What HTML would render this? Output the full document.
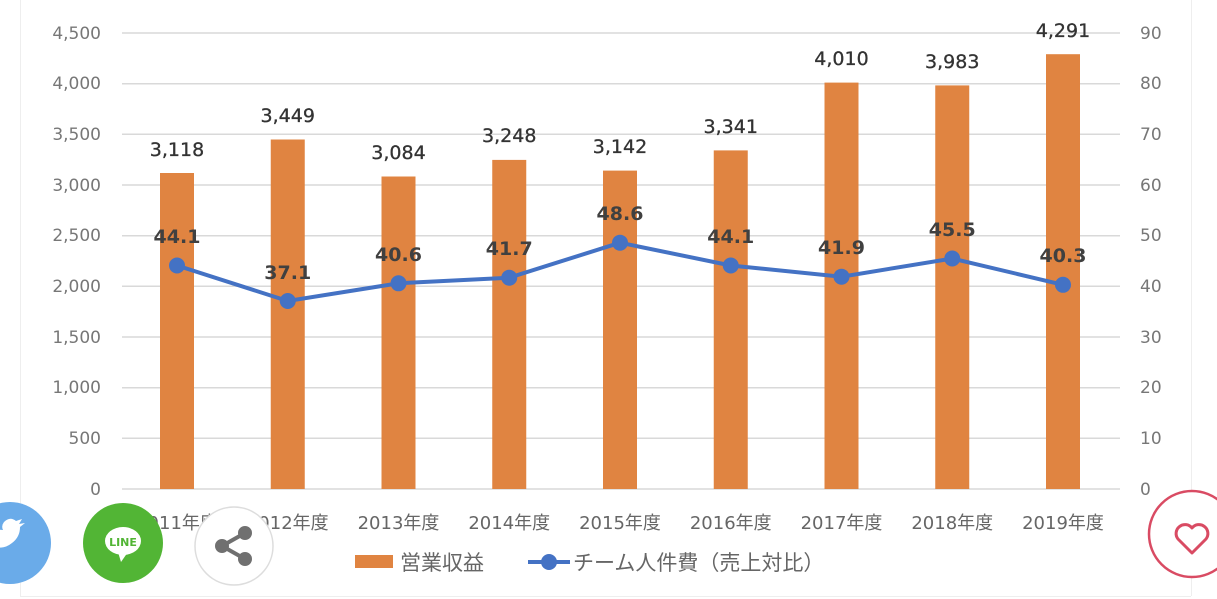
<!DOCTYPE html>
<html><head><meta charset="utf-8"><style>
html,body{margin:0;padding:0;background:#fff;width:1217px;height:599px;overflow:hidden}
svg{display:block}
text{font-family:"DejaVu Sans","Liberation Sans","Noto Sans CJK JP",sans-serif}
</style></head><body>
<svg width="1217" height="599" viewBox="0 0 1217 599" xmlns="http://www.w3.org/2000/svg">
<line x1="20.5" y1="0" x2="20.5" y2="596" stroke="#eee"/>
<line x1="20" y1="596.5" x2="1191" y2="596.5" stroke="#eee"/>
<line x1="1191.5" y1="0" x2="1191.5" y2="596" stroke="#eee"/>
<g stroke="#d9d9d9" stroke-width="1.5">
<line x1="122" x2="1120" y1="489" y2="489"/>
<line x1="122" x2="1120" y1="438.3" y2="438.3"/>
<line x1="122" x2="1120" y1="387.7" y2="387.7"/>
<line x1="122" x2="1120" y1="337" y2="337"/>
<line x1="122" x2="1120" y1="286.3" y2="286.3"/>
<line x1="122" x2="1120" y1="235.7" y2="235.7"/>
<line x1="122" x2="1120" y1="185" y2="185"/>
<line x1="122" x2="1120" y1="134.3" y2="134.3"/>
<line x1="122" x2="1120" y1="83.7" y2="83.7"/>
<line x1="122" x2="1120" y1="33" y2="33"/>
</g>
<g fill="#777" font-size="17" text-anchor="end">
<text x="101" y="495">0</text><text x="101" y="444">500</text><text x="101" y="393">1,000</text><text x="101" y="343">1,500</text><text x="101" y="292">2,000</text><text x="101" y="241">2,500</text><text x="101" y="191">3,000</text><text x="101" y="140">3,500</text><text x="101" y="89">4,000</text><text x="101" y="39">4,500</text>
</g>
<g fill="#777" font-size="17">
<text x="1140" y="495">0</text><text x="1140" y="444">10</text><text x="1140" y="393">20</text><text x="1140" y="343">30</text><text x="1140" y="292">40</text><text x="1140" y="241">50</text><text x="1140" y="191">60</text><text x="1140" y="140">70</text><text x="1140" y="89">80</text><text x="1140" y="39">90</text>
</g>
<g fill="#e08441">
<rect x="160" y="173" width="34" height="316"/>
<rect x="270.75" y="139.5" width="34" height="349.5"/>
<rect x="381.5" y="176.5" width="34" height="312.5"/>
<rect x="492.25" y="159.9" width="34" height="329.1"/>
<rect x="603" y="170.6" width="34" height="318.4"/>
<rect x="713.75" y="150.4" width="34" height="338.6"/>
<rect x="824.5" y="82.6" width="34" height="406.4"/>
<rect x="935.25" y="85.4" width="34" height="403.6"/>
<rect x="1046" y="54.2" width="34" height="434.8"/>
</g>
<g fill="#333" font-size="19" text-anchor="middle" stroke="#333" stroke-width="0.3">
<text x="177" y="156">3,118</text><text x="287.75" y="122">3,449</text><text x="398.5" y="159">3,084</text><text x="509.25" y="142">3,248</text><text x="620" y="153">3,142</text><text x="730.75" y="133">3,341</text><text x="841.5" y="65">4,010</text><text x="952.25" y="68">3,983</text><text x="1063" y="37">4,291</text>
</g>
<polyline fill="none" stroke="#4472c4" stroke-width="4" points="177,265.5 287.75,301 398.5,283.3 509.25,277.7 620,242.7 730.75,265.5 841.5,276.7 952.25,258.5 1063,284.8"/>
<g fill="#4472c4">
<circle cx="177" cy="265.5" r="8"/><circle cx="287.75" cy="301" r="8"/><circle cx="398.5" cy="283.3" r="8"/><circle cx="509.25" cy="277.7" r="8"/><circle cx="620" cy="242.7" r="8"/><circle cx="730.75" cy="265.5" r="8"/><circle cx="841.5" cy="276.7" r="8"/><circle cx="952.25" cy="258.5" r="8"/><circle cx="1063" cy="284.8" r="8"/>
</g>
<g fill="#404040" font-size="19" font-weight="bold" text-anchor="middle">
<text x="177" y="243">44.1</text><text x="287.75" y="279">37.1</text><text x="398.5" y="261">40.6</text><text x="509.25" y="255">41.7</text><text x="620" y="220">48.6</text><text x="730.75" y="243">44.1</text><text x="841.5" y="254">41.9</text><text x="952.25" y="236">45.5</text><text x="1063" y="262">40.3</text>
</g>
<g fill="#666" font-size="18" text-anchor="middle">
<text x="177" y="529">2011年度</text><text x="287.75" y="529">2012年度</text><text x="398.5" y="529">2013年度</text><text x="509.25" y="529">2014年度</text><text x="620" y="529">2015年度</text><text x="730.75" y="529">2016年度</text><text x="841.5" y="529">2017年度</text><text x="952.25" y="529">2018年度</text><text x="1063" y="529">2019年度</text>
</g>
<rect x="355" y="555" width="38" height="13" fill="#e08441"/>
<text x="400" y="570" font-size="21" fill="#666">営業収益</text>
<line x1="528" y1="562" x2="570" y2="562" stroke="#4472c4" stroke-width="4"/>
<circle cx="549" cy="562" r="8" fill="#4472c4"/>
<text x="573" y="570" font-size="21" fill="#666">チーム人件費（売上対比）</text>
<circle cx="10" cy="543" r="41" fill="#6aabe9"/>
<path d="M-8 545 q10 6 20 -2 q8 -6 8 -16 l5 -4 l-6 1 l3 -5 l-6 2 q-6 -5 -12 1 q-3 4 -1 8 q-10 0 -17 -8 q-3 8 3 12 l-4 -1 q1 6 6 8 l-4 0 q2 5 8 5 q-6 4 -14 3z" fill="#fff"/>
<circle cx="123" cy="543" r="40" fill="#52b535"/>
<ellipse cx="123" cy="541" rx="18" ry="14" fill="#fff"/>
<path d="M118 552 l3 10 l7 -10z" fill="#fff"/>
<text x="123" y="546" font-size="11" font-weight="bold" fill="#52b535" text-anchor="middle" font-family="Liberation Sans">LINE</text>
<circle cx="234" cy="546" r="39" fill="#fff" stroke="#ddd" stroke-width="1.5"/>
<g stroke="#707070" stroke-width="4" fill="#707070">
<line x1="222" y1="546" x2="245" y2="533"/><line x1="222" y1="546" x2="245" y2="559"/>
<circle cx="222" cy="546" r="5"/><circle cx="245" cy="533" r="5"/><circle cx="245" cy="559" r="5"/>
</g>
<circle cx="1192" cy="534" r="43" fill="#fff" stroke="#d94b63" stroke-width="2.5"/>
<path d="M1192 553 l-14 -14 a8 8 0 0 1 14 -11 a8 8 0 0 1 14 11z" fill="none" stroke="#d94b63" stroke-width="3" stroke-linejoin="round"/>
</svg>
</body></html>
